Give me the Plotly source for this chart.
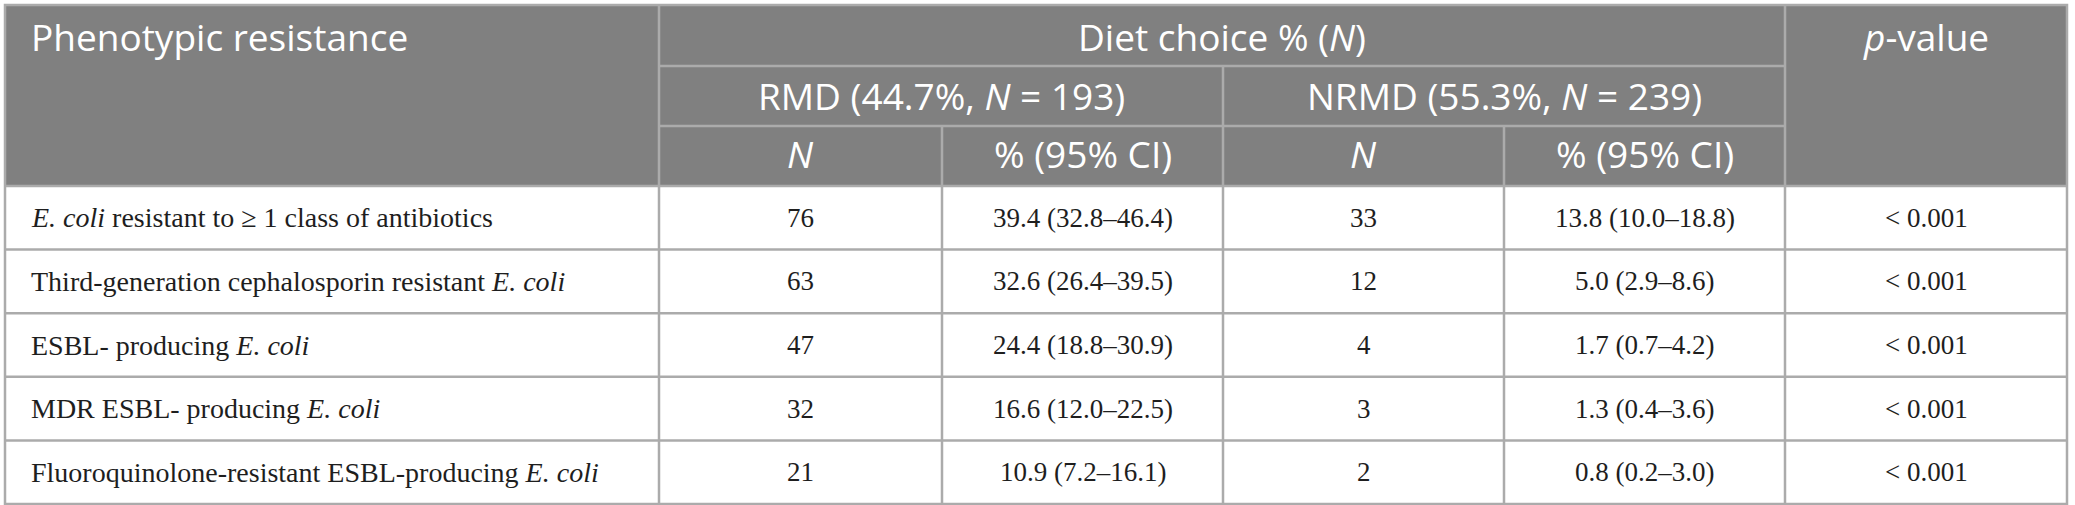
#!/usr/bin/env python3
"""
Phenotypic resistance by diet choice - table recreated with Plotly shapes + annotations.
"""

import plotly.graph_objects as go

# ---- data ----
phenotypes = [
    "<i>E. coli</i> resistant to ≥ 1 class of antibiotics",
    "Third-generation cephalosporin resistant <i>E. coli</i>",
    "ESBL- producing <i>E. coli</i>",
    "MDR ESBL- producing <i>E. coli</i>",
    "Fluoroquinolone-resistant ESBL-producing <i>E. coli</i>",
]
rmd_n = [76, 63, 47, 32, 21]
rmd_pct = ["39.4 (32.8–46.4)", "32.6 (26.4–39.5)", "24.4 (18.8–30.9)",
           "16.6 (12.0–22.5)", "10.9 (7.2–16.1)"]
nrmd_n = [33, 12, 4, 3, 2]
nrmd_pct = ["13.8 (10.0–18.8)", "5.0 (2.9–8.6)", "1.7 (0.7–4.2)",
            "1.3 (0.4–3.6)", "0.8 (0.2–3.0)"]
p_values = ["< 0.001", "< 0.001", "< 0.001", "< 0.001", "< 0.001"]

first_header = "Phenotypic resistance"
group_header = "Diet choice % (<i>N</i>)"
sub_headers = ["RMD (44.7%, <i>N</i> = 193)", "NRMD (55.3%, <i>N</i> = 239)"]
leaf_headers = ["<i>N</i>", "% (95% CI)", "<i>N</i>", "% (95% CI)"]
last_header = "<i>p</i>-value"

# ---- geometry (pixel units on the axes) ----
W, H = 2075, 505
col_edges = [5, 659, 942, 1223, 1504, 1785, 2067]
head_edges = [5, 66, 126, 186]
bottom = 504
n_rows = len(phenotypes)
row_h = (bottom - head_edges[-1]) / n_rows
row_edges = [head_edges[-1] + i * row_h for i in range(n_rows + 1)]

HEAD_BG = "#808080"
LINE = "#ababab"
TXT = "#1e1e1e"
head_font = dict(family="Open Sans", size=37, color="white")
label_font = dict(family="Liberation Serif", size=28, color=TXT)
num_font = dict(family="Liberation Serif", size=27, color=TXT)

fig = go.Figure()
shapes = []

# header background
shapes.append(dict(type="rect", x0=col_edges[0], x1=col_edges[-1], y0=head_edges[0],
                   y1=head_edges[-1], fillcolor=HEAD_BG, line=dict(width=0), layer="below"))


def hline(y, x0, x1):
    shapes.append(dict(type="line", x0=x0, x1=x1, y0=y, y1=y, line=dict(color=LINE, width=2.5)))


def vline(x, y0, y1):
    shapes.append(dict(type="line", x0=x, x1=x, y0=y0, y1=y1, line=dict(color=LINE, width=2.5)))


# header inner lines
hline(head_edges[1], col_edges[1], col_edges[5])
hline(head_edges[2], col_edges[1], col_edges[5])
vline(col_edges[3], head_edges[1], bottom)
for c in (2, 4):
    vline(col_edges[c], head_edges[2], bottom)
for c in (1, 5):
    vline(col_edges[c], head_edges[0], bottom)
# body row lines
for y in row_edges[:-1]:
    hline(y, col_edges[0], col_edges[-1])
# outer border
shapes.append(dict(type="rect", x0=col_edges[0], x1=col_edges[-1], y0=head_edges[0], y1=bottom,
                   line=dict(color=LINE, width=2.5)))

annotations = []


def add_text(x, y, text, font, xanchor="center"):
    annotations.append(dict(x=x, y=y, text=text, showarrow=False, font=font,
                            xanchor=xanchor, yanchor="middle", xref="x", yref="y"))


def mid(a, b):
    return (a + b) / 2


# header texts
add_text(col_edges[0] + 24, mid(head_edges[0], head_edges[1]) + 1, first_header, head_font, "left")
add_text(mid(col_edges[1], col_edges[5]), mid(head_edges[0], head_edges[1]) + 1, group_header, head_font)
add_text(mid(col_edges[1], col_edges[3]), mid(head_edges[1], head_edges[2]) - 1, sub_headers[0], head_font)
add_text(mid(col_edges[3], col_edges[5]), mid(head_edges[1], head_edges[2]) - 1, sub_headers[1], head_font)
for i, t in enumerate(leaf_headers):
    add_text(mid(col_edges[i + 1], col_edges[i + 2]), mid(head_edges[2], head_edges[3]) - 3, t, head_font)
add_text(mid(col_edges[5], col_edges[6]), mid(head_edges[0], head_edges[1]) + 1, last_header, head_font)

# body texts
for r in range(n_rows):
    yc = mid(row_edges[r], row_edges[r + 1])
    add_text(col_edges[0] + 24, yc, phenotypes[r], label_font, "left")
    cells = [str(rmd_n[r]), rmd_pct[r], str(nrmd_n[r]), nrmd_pct[r], p_values[r]]
    for c, val in enumerate(cells):
        add_text(mid(col_edges[c + 1], col_edges[c + 2]), yc, val, num_font)

fig.update_layout(
    width=W, height=H,
    margin=dict(l=0, r=0, t=0, b=0),
    paper_bgcolor="white", plot_bgcolor="white",
    xaxis=dict(range=[0, W], visible=False, fixedrange=True),
    yaxis=dict(range=[H, 0], visible=False, fixedrange=True),
    shapes=shapes, annotations=annotations,
    showlegend=False,
)

# drop the browser's default body margin so the figure sits at the page corner
fig.write_html("out.html", config={"displayModeBar": False},
               post_script="document.body.style.margin = '0';")
